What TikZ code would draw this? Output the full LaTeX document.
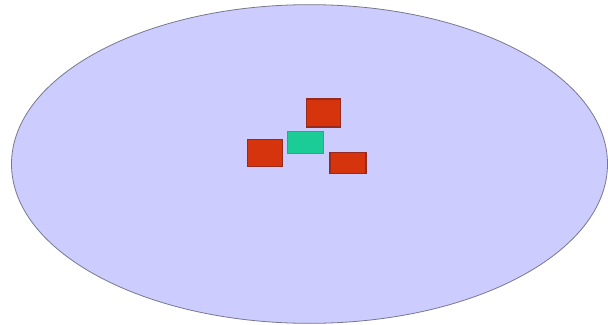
\documentclass[tikz,border=0pt]{standalone}
\usepackage{tikz}
\usetikzlibrary{positioning,shapes.geometric}

\definecolor{lavfill}{RGB}{204,204,255}
\definecolor{lavline}{RGB}{120,120,140}
\definecolor{brick}{RGB}{214,52,12}
\definecolor{brickline}{RGB}{150,42,30}
\definecolor{mint}{RGB}{28,204,150}
\definecolor{mintline}{RGB}{60,160,130}

\begin{document}
\begin{tikzpicture}[
  x=0.75pt, y=-0.75pt,
  field/.style={ellipse, draw=lavline, line width=0.6pt, fill=lavfill, minimum width=447pt, minimum height=239pt, inner sep=0pt},
  redbox/.style={rectangle, draw=brickline, line width=0.8pt, fill=brick, inner sep=0pt},
  greenbox/.style={rectangle, draw=mintline, line width=0.6pt, fill=mint, inner sep=0pt, minimum width=27pt, minimum height=16.5pt}
]
\useasboundingbox (0,0) rectangle (608,325);

% --- the field ---
\node[field] (area) at (309.5,164) {};

% --- three red boxes round the green one ---
\node[greenbox] (centre) at (305.5,142.7) {};
\node[redbox, minimum width=26pt, minimum height=21pt] (rtop) at (323.5,113) {};
\node[redbox, minimum width=26pt, minimum height=20.5pt] (rleft) at (264.8,152.8) {};
\node[redbox, minimum width=27pt, minimum height=15.5pt] (rright) at (348,162.8) {};

\end{tikzpicture}
\end{document}
